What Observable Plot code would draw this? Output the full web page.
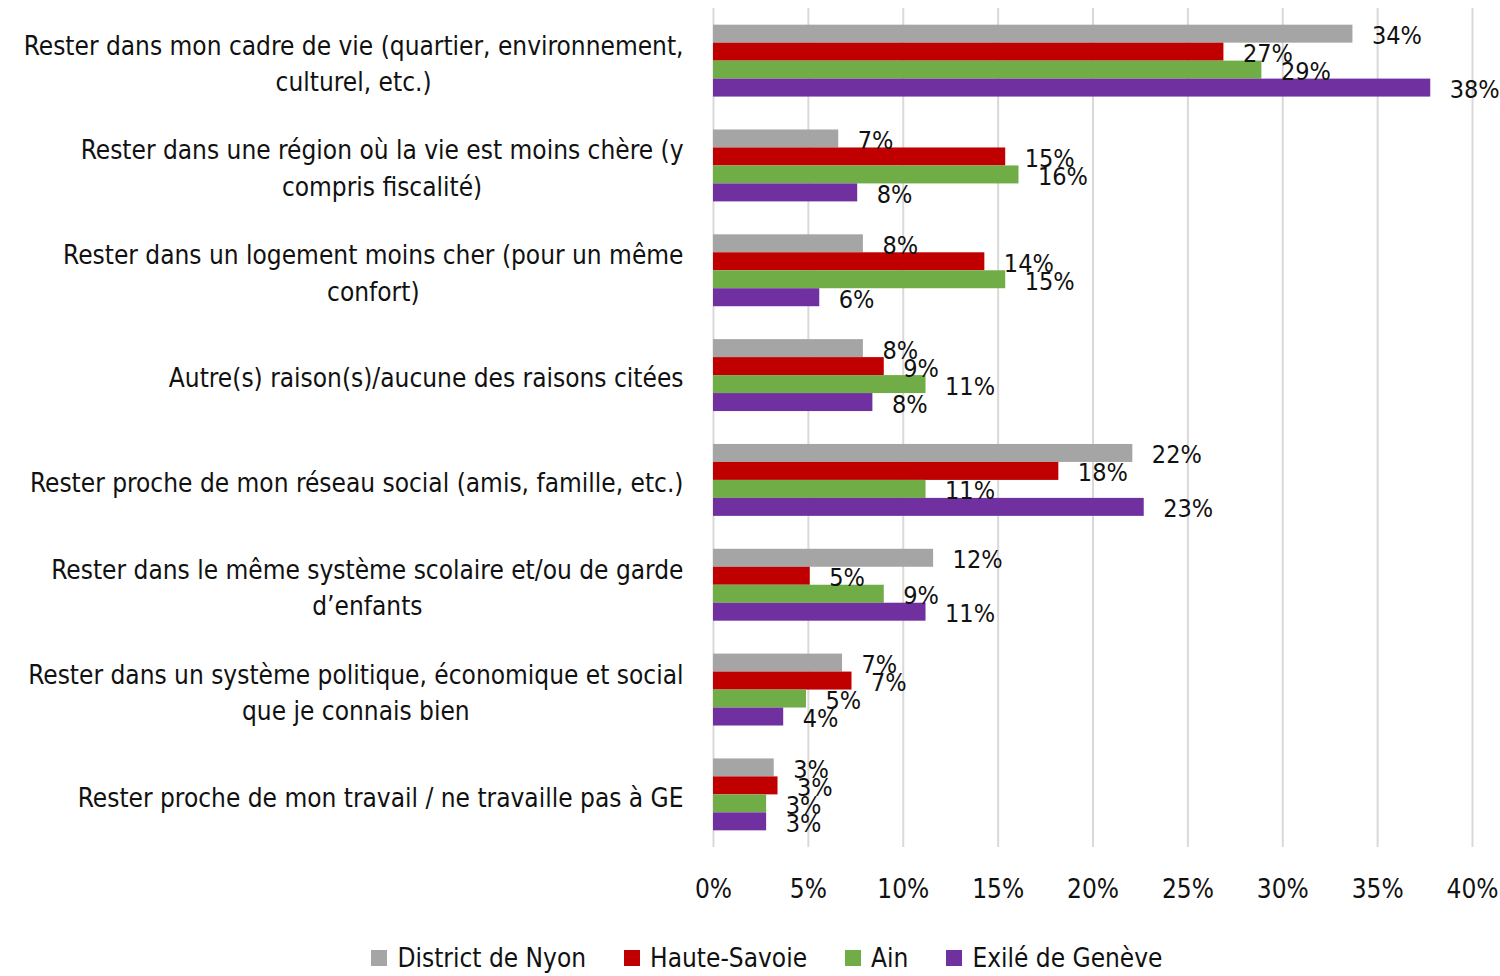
<!DOCTYPE html>
<html>
<head>
<meta charset="utf-8">
<script src="https://cdn.jsdelivr.net/npm/d3@7"></script>
<script src="https://cdn.jsdelivr.net/npm/@observablehq/plot@0.6"></script>
<style>
  html, body { margin: 0; padding: 0; background: #fff; }
  body { width: 1500px; height: 976px; overflow: hidden; font-family: "DejaVu Sans Condensed", sans-serif; color: #111; }
  #wrap { position: relative; width: 1500px; height: 925px; }
  #wrap svg { position: absolute; left: 0; top: 0; background: transparent; }
  #legend { display: flex; justify-content: center; align-items: center; gap: 38px; height: 30px; margin-top: 18px; padding-left: 34px; font-size: 26px; line-height: 30px; }
  #legend .item { display: flex; align-items: center; gap: 10px; }
  #legend .sw { width: 16px; height: 16px; display: inline-block; }
</style>
</head>
<body>
<div id="wrap"></div>
<div id="legend"></div>
<script>
// ---- data ----
const categories = [
  "Rester dans mon cadre de vie (quartier, environnement,\nculturel, etc.)",
  "Rester dans une région où la vie est moins chère (y\ncompris fiscalité)",
  "Rester dans un logement moins cher (pour un même\nconfort)",
  "Autre(s) raison(s)/aucune des raisons citées",
  "Rester proche de mon réseau social (amis, famille, etc.)",
  "Rester dans le même système scolaire et/ou de garde\nd’enfants",
  "Rester dans un système politique, économique et social\nque je connais bien",
  "Rester proche de mon travail / ne travaille pas à GE"
];
const series = ["District de Nyon", "Haute-Savoie", "Ain", "Exilé de Genève"];
const colors = ["#a5a5a5", "#c00000", "#70ad47", "#7030a0"];
const nyon        = [0.337, 0.066, 0.079, 0.079, 0.221, 0.116, 0.068, 0.032];
const hauteSavoie = [0.269, 0.154, 0.143, 0.090, 0.182, 0.051, 0.073, 0.034];
const ain         = [0.289, 0.161, 0.154, 0.112, 0.112, 0.090, 0.049, 0.028];
const exile       = [0.378, 0.076, 0.056, 0.084, 0.227, 0.112, 0.037, 0.028];
const xTicks = [0, 0.05, 0.10, 0.15, 0.20, 0.25, 0.30, 0.35, 0.40];

const valuesBySeries = [nyon, hauteSavoie, ain, exile];
const data = [];
categories.forEach((c, i) => series.forEach((s, j) => data.push({category: c, series: s, value: valuesBySeries[j][i]})));

const pct = d3.format(".0%");
const W = 1500, H = 925;
const margins = {marginLeft: 713, marginRight: 28, marginTop: 8, marginBottom: 78};
const font = '"DejaVu Sans Condensed", sans-serif';

// background: gridlines + x axis
const grid = Plot.plot({
  width: W, height: H, ...margins,
  style: {fontFamily: font, fontSize: "26px", color: "#111", background: "transparent"},
  x: {domain: [0, 0.4], ticks: xTicks, tickFormat: pct, tickSize: 0, tickPadding: 32, label: null},
  y: {axis: null},
  marks: [
    Plot.ruleX(xTicks, {stroke: "#d9d9d9", strokeWidth: 2})
  ]
});

// foreground: faceted grouped bars
const bars = Plot.plot({
  width: W, height: H, ...margins,
  style: {fontFamily: font, fontSize: "26px", color: "#111", background: "transparent"},
  x: {domain: [0, 0.4], axis: null},
  fy: {domain: categories, paddingInner: 0.314, paddingOuter: 0.159, round: false, axis: null, label: null},
  y: {domain: series, padding: 0, round: false, axis: null},
  color: {domain: series, range: colors},
  marks: [
    Plot.barX(data, {x: "value", y: "series", fy: "category", fill: "series"}),
    Plot.text(data, {x: "value", y: "series", fy: "category", text: d => pct(d.value),
      textAnchor: "start", dx: 19, dy: 2, fill: "#111", fontSize: 25}),
    Plot.text(categories, {fy: d => d, text: d => d, frameAnchor: "left", textAnchor: "end",
      dx: -30, lineAnchor: "middle", lineHeight: 1.4, fill: "#111", fontSize: 26,
      ariaDescription: "cat-labels"})
  ]
});

const wrap = document.getElementById("wrap");
wrap.appendChild(grid);
wrap.appendChild(bars);

// center the lines of multi-line category labels on each other
bars.querySelectorAll('g[aria-description="cat-labels"] text').forEach(t => {
  const spans = Array.from(t.querySelectorAll("tspan"));
  if (spans.length < 2) return;
  const widths = spans.map(s => s.getComputedTextLength());
  const maxW = Math.max(...widths);
  spans.forEach((s, i) => s.setAttribute("x", -(maxW - widths[i]) / 2));
});

// legend
const legend = document.getElementById("legend");
series.forEach((s, i) => {
  const item = document.createElement("div");
  item.className = "item";
  const sw = document.createElement("span");
  sw.className = "sw";
  sw.style.background = colors[i];
  const lab = document.createElement("span");
  lab.textContent = s;
  item.appendChild(sw); item.appendChild(lab);
  legend.appendChild(item);
});
</script>
</body>
</html>
